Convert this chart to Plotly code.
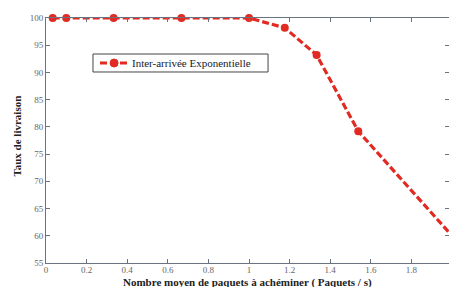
import plotly.graph_objects as go

x_vals = [0.033, 0.1, 0.333, 0.667, 1.0, 1.176, 1.333, 1.538, 2.0]
y_vals = [100, 100, 100, 100, 100, 98.2, 93.2, 79.2, 60]
series_name = "Inter-arrivée Exponentielle"
x_ticks = [0, 0.2, 0.4, 0.6, 0.8, 1, 1.2, 1.4, 1.6, 1.8]
x_ticklabels = ["0", "0.2", "0.4", "0.6", "0.8", "1", "1.2", "1.4", "1.6", "1.8"]
y_ticks = [55, 60, 65, 70, 75, 80, 85, 90, 95, 100]

red = "#e02a22"
fig = go.Figure()
# dashed line (clipped to the axes like the original)
fig.add_trace(go.Scatter(
    x=x_vals, y=y_vals, name=series_name, mode="lines",
    line=dict(color=red, width=3.2, dash="7px,3px"),
    showlegend=False, cliponaxis=True,
))
# markers (not clipped)
fig.add_trace(go.Scatter(
    x=x_vals, y=y_vals, name=series_name, mode="markers",
    marker=dict(color=red, size=8, symbol="circle"),
    showlegend=False, cliponaxis=False,
))

axis_common = dict(
    showgrid=False, zeroline=False, showline=True, linecolor="#6a7480", linewidth=1,
    mirror="ticks", ticks="inside", ticklen=4, tickcolor="#6a7480", automargin=False,
    tickfont=dict(family="Liberation Serif", size=9, color="#666"),
)
fig.update_xaxes(range=[0, 1.985], tickvals=x_ticks, ticktext=x_ticklabels,
                 ticklabelstandoff=-2, **axis_common)
fig.update_yaxes(range=[55, 100], tickvals=y_ticks, **axis_common)

# manual legend (paper coordinates)
ly = 0.8163
fig.add_shape(type="rect", xref="paper", yref="paper", x0=0.1166, x1=0.551, y0=0.7796, y1=0.853,
              line=dict(color="#444", width=1), fillcolor="white", layer="above")
fig.add_shape(type="line", xref="paper", yref="paper", x0=0.134, x1=0.201, y0=ly, y1=ly,
              line=dict(color=red, width=3, dash="7px,3px"), layer="above")
fig.add_shape(type="circle", xref="paper", yref="paper", xsizemode="pixel", ysizemode="pixel",
              xanchor=0.169, yanchor=ly, x0=-4, x1=4, y0=-4, y1=4,
              line=dict(color=red, width=1), fillcolor=red, layer="above")

fig.update_layout(
    width=449, height=287,
    margin=dict(l=46, r=0, t=18, b=24, autoexpand=False),
    paper_bgcolor="white", plot_bgcolor="white",
    font=dict(family="Liberation Serif", color="#222"),
    showlegend=False,
    annotations=[
        dict(text=series_name, xref="paper", yref="paper", x=0.208, y=ly,
             xanchor="left", yanchor="middle", showarrow=False,
             font=dict(family="Liberation Serif", size=11, color="#1a1a2a")),
        dict(text="<b>Taux de livraison</b>", xref="paper", yref="paper", x=-0.072, y=0.52,
             xanchor="center", yanchor="middle", textangle=-90, showarrow=False,
             font=dict(family="Liberation Serif", size=11, color="#222")),
        dict(text="<b>Nombre moyen de paquets à achéminer ( Paquets / s)</b>", xref="paper", yref="paper",
             x=0.5, y=-0.078, xanchor="center", yanchor="middle", showarrow=False,
             font=dict(family="Liberation Serif", size=11, color="#222")),
    ],
)

fig.write_html("out.html", config={"displayModeBar": False},
               post_script="document.body.style.margin='0';document.body.style.overflow='hidden';")
